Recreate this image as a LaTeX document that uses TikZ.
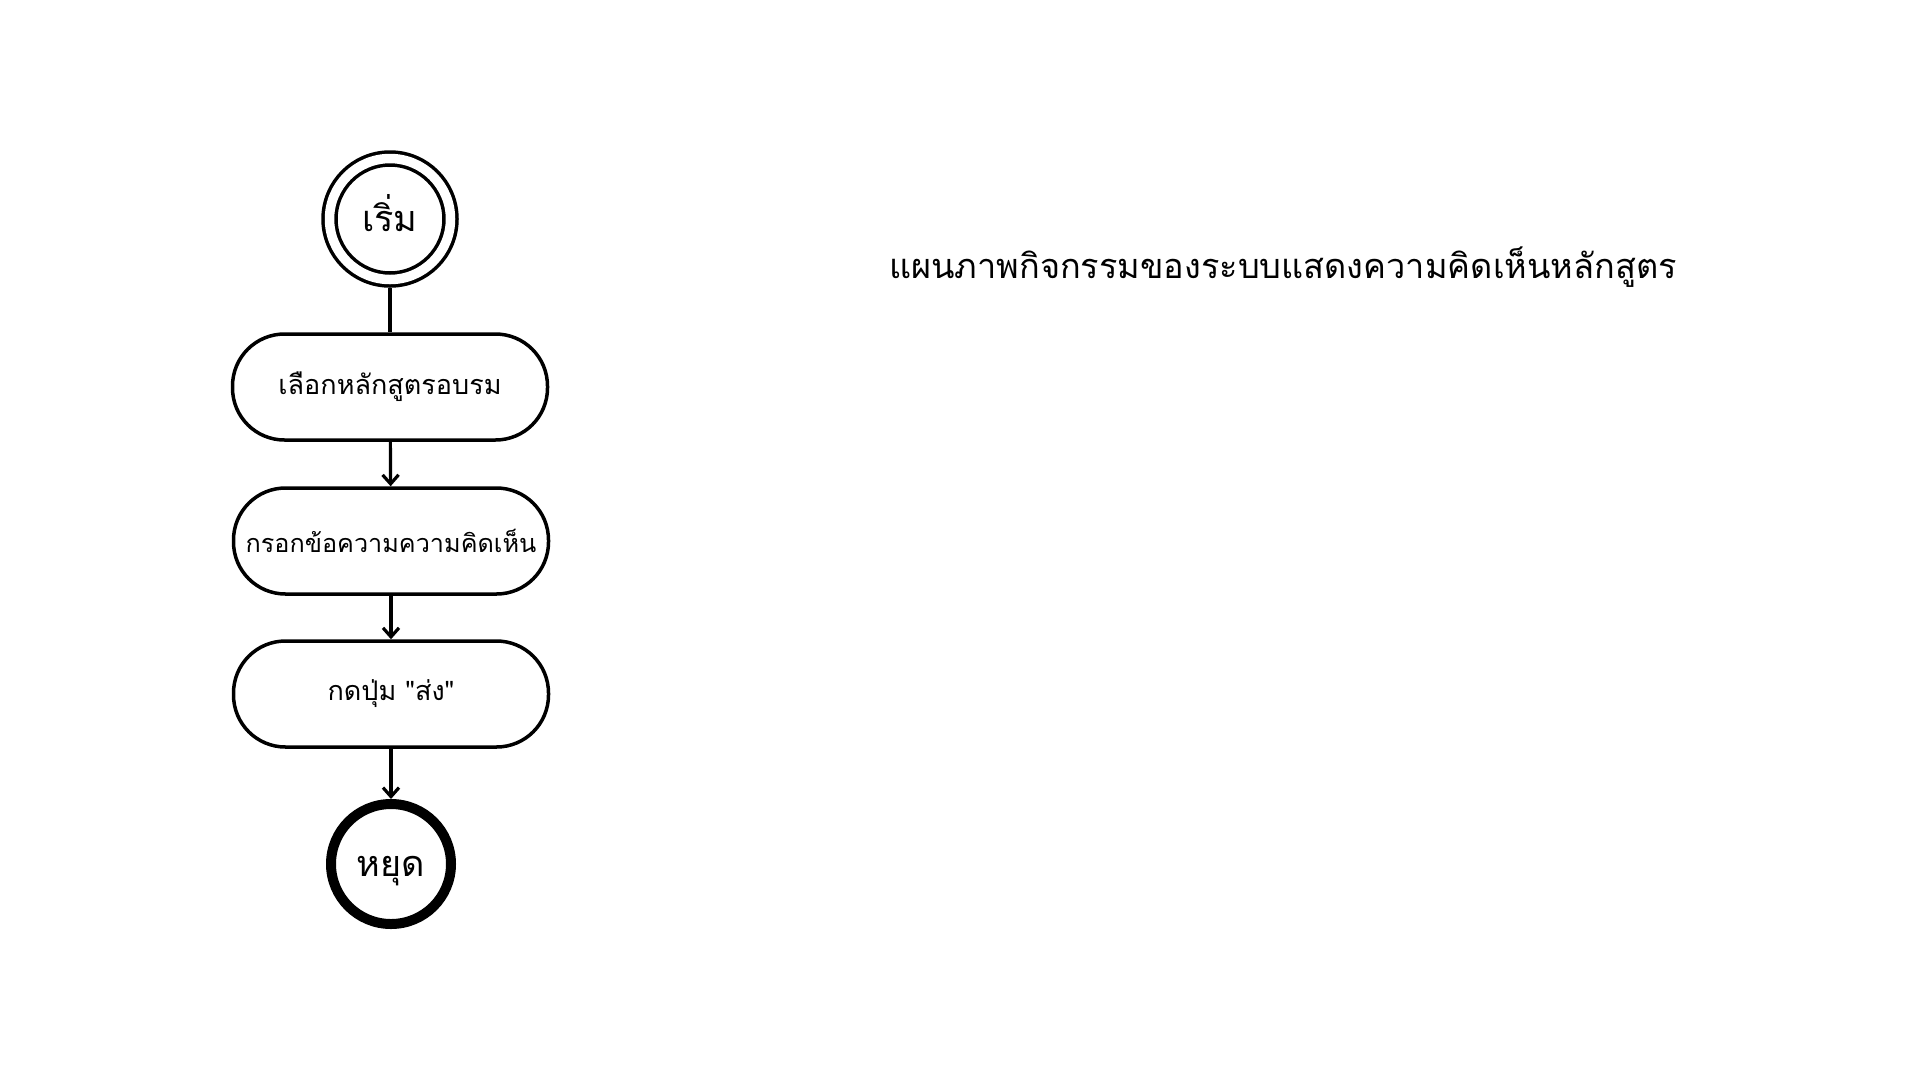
\documentclass[tikz,border=0pt]{standalone}
\usepackage{fontspec}
\newfontfamily\thaifont[Script=Thai]{Loma}
\usetikzlibrary{arrows.meta}
\tikzset{
  actbox/.style={draw, line width=3.5pt, rounded corners=52pt, minimum width=315pt, minimum height=106pt, inner sep=0pt, font=\thaifont\fontsize{27}{32}\selectfont},
  startnode/.style={draw, circle, double, line width=3.5pt, double distance=9.5pt, minimum size=121pt, inner sep=0pt, outer sep=8.25pt, text height=25pt, text depth=0pt, font=\thaifont\fontsize{36}{42}\selectfont},
  endnode/.style={draw, circle, line width=10pt, minimum size=120pt, inner sep=0pt, text height=25pt, text depth=0pt, font=\thaifont\fontsize{36}{42}\selectfont},
  conn/.style={line width=3.2pt},
  arr/.style={conn, -{Straight Barb[length=9pt,width=16pt,line width=3.2pt]}},
}
\begin{document}
\begin{tikzpicture}[x=1pt,y=-1pt]
\useasboundingbox (0,0) rectangle (1920,1080);
\node[startnode] (start) at (390,219) {เริ่ม};
\node[actbox] (b1) at (390,387) {เลือกหลักสูตรอบรม};
\node[actbox, font=\thaifont\fontsize{25.2}{30}\selectfont] (b2) at (391,541) {กรอกข้อความความคิดเห็น};
\node[actbox] (b3) at (391,694) {กดปุ่ม "ส่ง"};
\node[endnode] (stop) at (391,864) {หยุด};
\node[font=\thaifont\fontsize{34.3}{40}\selectfont] (title) at (1283,267) {แผนภาพกิจกรรมของระบบแสดงความคิดเห็นหลักสูตร};
\draw[conn] (start) -- (b1);
\draw[arr] (b1) -- (b2);
\draw[arr] (b2) -- (b3);
\draw[arr] (b3) -- (stop);
\end{tikzpicture}
\end{document}
